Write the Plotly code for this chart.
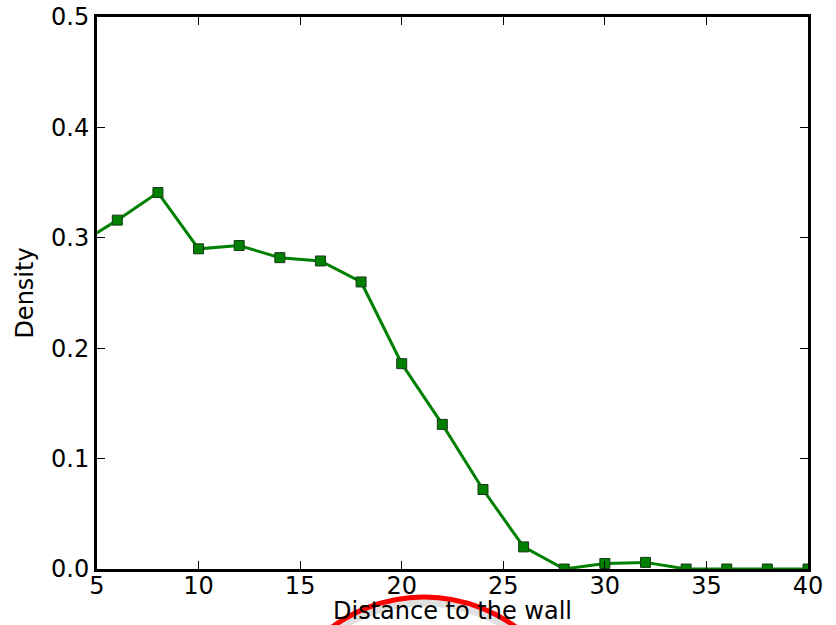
import plotly.graph_objects as go

# Density profile as a function of distance to the wall
distance = [4, 6, 8, 10, 12, 14, 16, 18, 20, 22, 24, 26, 28, 30, 32, 34, 36, 38, 40]
density = [0.293, 0.316, 0.341, 0.290, 0.293, 0.282, 0.279, 0.260, 0.186, 0.131,
           0.072, 0.020, 0.0, 0.005, 0.006, 0.0, 0.0, 0.0, 0.0]

x_ticks = [5, 10, 15, 20, 25, 30, 35, 40]
y_ticks = [0.0, 0.1, 0.2, 0.3, 0.4, 0.5]

tick_font = dict(family="DejaVu Sans", size=24, color="black")
title_font = dict(family="DejaVu Sans", size=24, color="black")

fig = go.Figure()
fig.add_trace(go.Scatter(
    x=distance, y=density, mode="lines+markers",
    line=dict(color="#008000", width=3),
    marker=dict(symbol="square", size=10, color="#008000",
                line=dict(color="#1a3a1a", width=1)),
    cliponaxis=True,
))

axis_common = dict(
    showline=True, linecolor="black", linewidth=3, mirror="ticks",
    ticks="inside", ticklen=8, tickwidth=1, tickcolor="black",
    showgrid=False, zeroline=False, tickfont=tick_font, automargin=False,
)

fig.update_xaxes(range=[5, 40], tickvals=x_ticks, ticktext=[str(v) for v in x_ticks],
                 ticklabelstandoff=-7,
                 title=dict(text="Distance to the wall", font=title_font, standoff=6),
                 **axis_common)
fig.update_yaxes(range=[0, 0.5], tickvals=y_ticks, ticktext=[f"{v:.1f}" for v in y_ticks],
                 title=dict(text="Density", font=title_font, standoff=11),
                 **axis_common)

# Red highlight ring around the x-axis label, with a soft shadow
fig.add_shape(type="circle", xref="paper", yref="paper",
              x0=0.2419, x1=0.678, y0=-0.618, y1=-0.057,
              line=dict(color="rgba(0,0,0,0.12)", width=12), layer="above")
fig.add_shape(type="circle", xref="paper", yref="paper",
              x0=0.2419, x1=0.678, y0=-0.612, y1=-0.0507,
              line=dict(color="#ff0000", width=5), layer="above")

fig.update_layout(
    width=836, height=625,
    margin=dict(l=97, r=28, t=17, b=56),
    paper_bgcolor="white", plot_bgcolor="white",
    showlegend=False, font=tick_font,
)

fig.write_html("out.html")
